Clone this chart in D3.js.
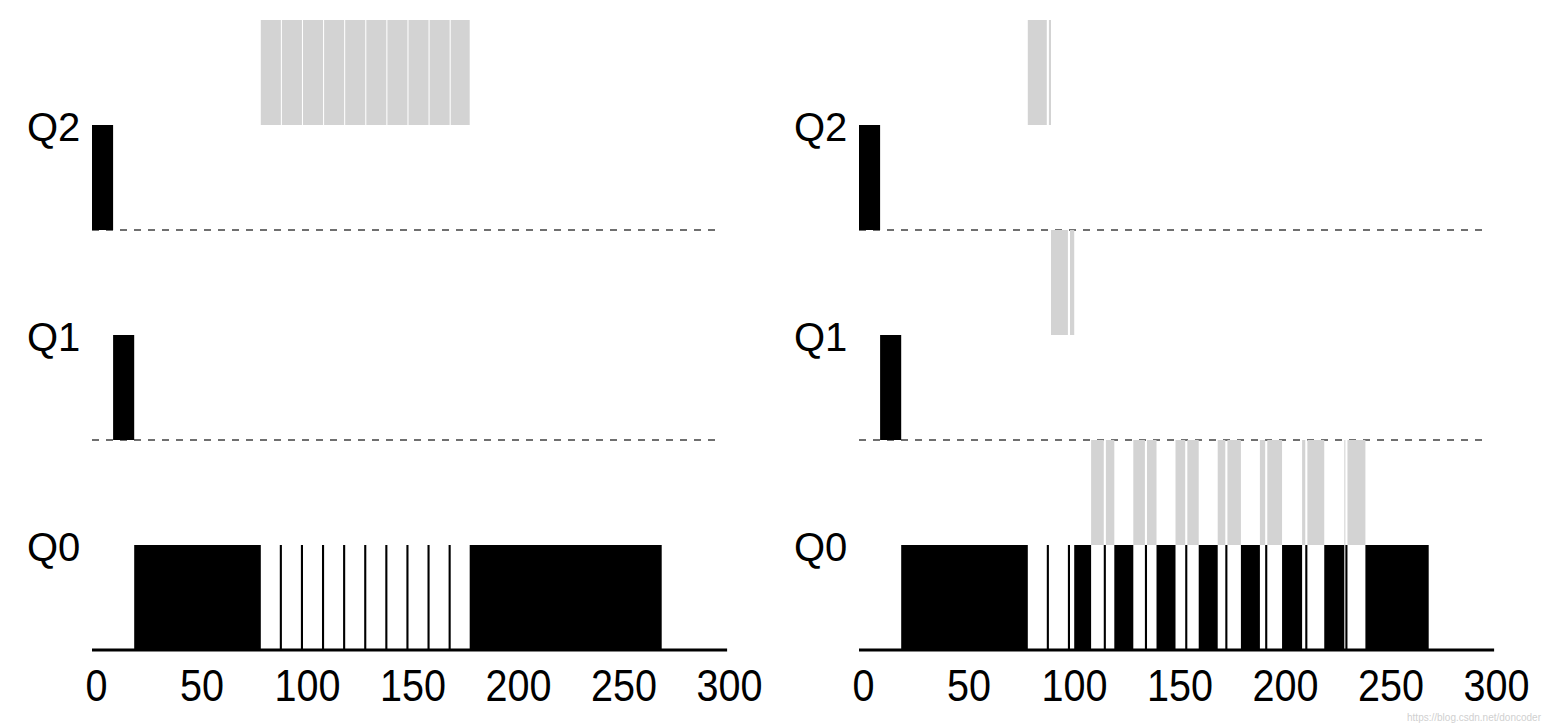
<!DOCTYPE html>
<html>
<head>
<meta charset="utf-8">
<script src="https://cdn.jsdelivr.net/npm/d3@7"></script>
<style>
  html, body { margin: 0; padding: 0; background: #fff; }
  svg { display: block; }
</style>
</head>
<body>
<svg id="chart" width="1549" height="723"></svg>
<script>
// ---------------- data ----------------
const queues = ["Q2", "Q1", "Q0"];
const tickValues = [0, 50, 100, 150, 200, 250, 300];

// Left panel (without gaming tolerance): [start, end, queue]
const leftBlack = [
  [0, 10, "Q2"], [10, 20, "Q1"], [20, 80, "Q0"],
  [89, 90, "Q0"], [99, 100, "Q0"], [109, 110, "Q0"], [119, 120, "Q0"], [129, 130, "Q0"],
  [139, 140, "Q0"], [149, 150, "Q0"], [159, 160, "Q0"], [169, 170, "Q0"],
  [179, 270, "Q0"]
];
const leftGray = [
  [80, 89.5, "Q2"], [90, 99.5, "Q2"], [100, 109.5, "Q2"], [110, 119.5, "Q2"], [120, 129.5, "Q2"],
  [130, 139.5, "Q2"], [140, 149.5, "Q2"], [150, 159.5, "Q2"], [160, 169.5, "Q2"], [170, 179, "Q2"]
];

// Right panel (with gaming tolerance): [start, end, queue]
const rightBlack = [
  [0, 10, "Q2"], [10, 20, "Q1"], [20, 80, "Q0"],
  [89, 90, "Q0"], [99, 100, "Q0"], [102, 110, "Q0"], [116, 117, "Q0"], [121, 130, "Q0"],
  [135.5, 136.5, "Q0"], [141, 150, "Q0"], [154.6, 155.6, "Q0"], [161, 170, "Q0"],
  [173.6, 174.6, "Q0"], [181, 190, "Q0"], [192.5, 193.5, "Q0"], [200.5, 210, "Q0"],
  [211.5, 212.5, "Q0"], [220.5, 230, "Q0"], [230.5, 231.5, "Q0"], [240, 270, "Q0"]
];
const rightGray = [
  [80, 89, "Q2"], [90, 91, "Q2"],
  [91, 99, "Q1"], [100, 102, "Q1"],
  [110, 116, "Q0"], [117, 121, "Q0"], [130, 135.5, "Q0"], [136.5, 141, "Q0"],
  [150, 154.6, "Q0"], [155.6, 161, "Q0"], [170, 173.6, "Q0"], [174.6, 181, "Q0"],
  [190, 192.5, "Q0"], [193.5, 200.5, "Q0"], [210, 211.5, "Q0"], [212.5, 220.5, "Q0"],
  [230, 230.5, "Q0"], [231.5, 240, "Q0"]
];
const dashedQueues = ["Q2", "Q1"];
const dashEnd = 296;
const axisEnd = 301;
const watermark = "https://blog.csdn.net/doncoder";

// ---------------- drawing ----------------
const svg = d3.select("#chart");
const FONT = "'Liberation Sans', Arial, Helvetica, sans-serif";
const yBase = d3.scalePoint().domain(queues).range([230, 650]);
const barH = 105;

function drawPanel(x0, labelX, black, gray) {
  const x = d3.scaleLinear().domain([0, 300]).range([x0, x0 + 633]);
  const g = svg.append("g");

  // dashed queue separators
  g.selectAll("line.dash").data(dashedQueues).join("line")
    .attr("x1", x(0)).attr("x2", x(dashEnd))
    .attr("y1", d => yBase(d)).attr("y2", d => yBase(d))
    .attr("stroke", "#404040").attr("stroke-width", 1.5)
    .attr("stroke-dasharray", "7,7");

  // gray job (drawn one bar-height above the black job)
  g.selectAll("rect.gray").data(gray).join("rect")
    .attr("x", d => x(d[0])).attr("width", d => x(d[1]) - x(d[0]))
    .attr("y", d => yBase(d[2]) - 2 * barH).attr("height", barH)
    .attr("fill", "#d3d3d3");

  // black job
  g.selectAll("rect.black").data(black).join("rect")
    .attr("x", d => x(d[0])).attr("width", d => x(d[1]) - x(d[0]))
    .attr("y", d => yBase(d[2]) - barH).attr("height", barH)
    .attr("fill", "#000");

  // queue labels
  g.selectAll("text.q").data(queues).join("text")
    .attr("x", labelX).attr("y", d => yBase(d) - 89)
    .attr("font-family", FONT).attr("font-size", 40).attr("fill", "#000")
    .text(d => d);

  // x axis
  const ax = g.append("g").attr("transform", `translate(0,${yBase("Q0")})`)
    .call(d3.axisBottom(x).tickValues(tickValues).tickSize(0).tickFormat(d3.format("d")));
  ax.select(".domain").remove();
  ax.append("line").attr("x1", x(0)).attr("x2", x(axisEnd)).attr("y1", 0).attr("y2", 0)
    .attr("stroke", "#000").attr("stroke-width", 3);
  ax.selectAll(".tick text")
    .attr("font-family", FONT).attr("font-size", 45).attr("fill", "#000")
    .attr("y", 51).attr("dy", 0).attr("dx", 4)
    .attr("textLength", d => String(d).length * 22)
    .attr("lengthAdjust", "spacingAndGlyphs");
}

drawPanel(92, 27, leftBlack, leftGray);
drawPanel(859, 794, rightBlack, rightGray);

svg.append("text").attr("x", 1541).attr("y", 720.5).attr("text-anchor", "end")
  .attr("font-family", FONT).attr("font-size", 10).attr("fill", "#d0d0d0")
  .text(watermark);
</script>
</body>
</html>
